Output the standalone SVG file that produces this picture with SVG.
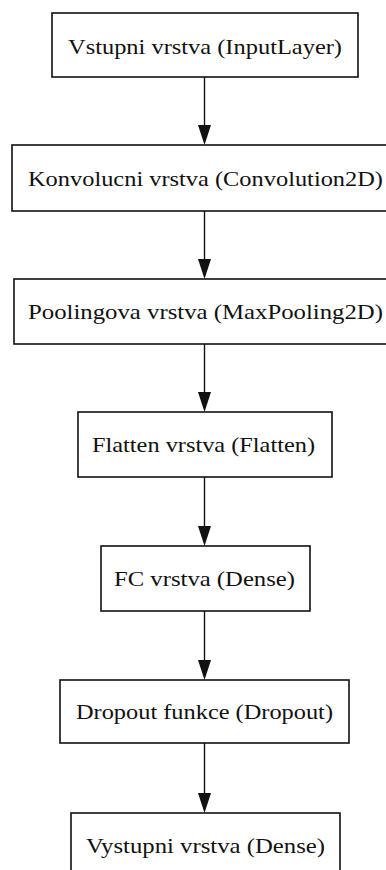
<svg xmlns="http://www.w3.org/2000/svg" width="386" height="870" viewBox="0 0 386 870">
<style>
.box{fill:#fff;stroke:#111;stroke-width:1.6}
.lbl{font-family:"Liberation Serif","Times New Roman",serif;font-size:22px;fill:#111;text-anchor:middle}
.edge{stroke:#111;stroke-width:1.4;fill:none}
.head{fill:#111}
</style>
<rect width="386" height="870" fill="#fff"/>
<g id="connectors">
<line class="edge" x1="204.5" y1="77" x2="204.5" y2="128"/>
<polygon class="head" points="198,125 211,125 204.5,145"/>
<line class="edge" x1="204.5" y1="211" x2="204.5" y2="262"/>
<polygon class="head" points="198,259 211,259 204.5,279"/>
<line class="edge" x1="204.5" y1="344" x2="204.5" y2="395"/>
<polygon class="head" points="198,392 211,392 204.5,412"/>
<line class="edge" x1="204.5" y1="477" x2="204.5" y2="529"/>
<polygon class="head" points="198,526 211,526 204.5,546"/>
<line class="edge" x1="204.5" y1="611" x2="204.5" y2="663"/>
<polygon class="head" points="198,660 211,660 204.5,680"/>
<line class="edge" x1="204.5" y1="743" x2="204.5" y2="796"/>
<polygon class="head" points="198,793 211,793 204.5,813"/>
</g>
<g id="n1"><rect class="box" x="52" y="13" width="306" height="64"/><text class="lbl" x="205" y="54" textLength="274" lengthAdjust="spacingAndGlyphs">Vstupni vrstva (InputLayer)</text></g>
<g id="n2"><rect class="box" x="12" y="145" width="386" height="66"/><text class="lbl" x="205.5" y="186" textLength="355" lengthAdjust="spacingAndGlyphs">Konvolucni vrstva (Convolution2D)</text></g>
<g id="n3"><rect class="box" x="14" y="279" width="382" height="65"/><text class="lbl" x="205.5" y="319" textLength="355" lengthAdjust="spacingAndGlyphs">Poolingova vrstva (MaxPooling2D)</text></g>
<g id="n4"><rect class="box" x="78" y="412" width="254" height="65"/><text class="lbl" x="203.5" y="452" textLength="223" lengthAdjust="spacingAndGlyphs">Flatten vrstva (Flatten)</text></g>
<g id="n5"><rect class="box" x="101" y="546" width="209" height="65"/><text class="lbl" x="204.5" y="586" textLength="181" lengthAdjust="spacingAndGlyphs">FC vrstva (Dense)</text></g>
<g id="n6"><rect class="box" x="60" y="680" width="289" height="63"/><text class="lbl" x="204.5" y="719" textLength="257" lengthAdjust="spacingAndGlyphs">Dropout funkce (Dropout)</text></g>
<g id="n7"><rect class="box" x="71" y="813" width="269" height="65"/><text class="lbl" x="205.5" y="853" textLength="239" lengthAdjust="spacingAndGlyphs">Vystupni vrstva (Dense)</text></g>
</svg>
